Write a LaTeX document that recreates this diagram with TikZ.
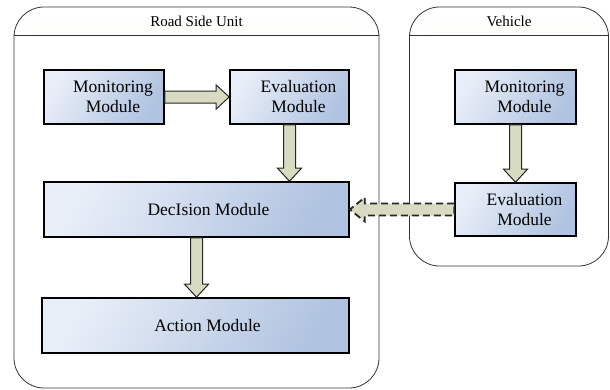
\documentclass[tikz,border=0pt]{standalone}
\usepackage{fontspec}
\setmainfont{Liberation Serif}
\newfontfamily\tnr{Liberation Serif}
\usetikzlibrary{calc}
\definecolor{boxlight}{HTML}{E8EEF8}
\definecolor{boxdark}{HTML}{B0C3E0}
\definecolor{arrowfill}{HTML}{D8DBC2}
\definecolor{hdr}{HTML}{EBEDE0}
\definecolor{frame}{HTML}{333333}
\tikzset{
  module/.style={draw=black, line width=1.6pt, top color=boxlight, bottom color=boxdark, shading angle=60, inner sep=0pt},
  mtext/.style={font=\tnr\fontsize{17.5}{20}\selectfont, align=center, text=black},
  htext/.style={font=\tnr\fontsize{15}{17}\selectfont, text=black},
  container/.style={draw=frame, line width=0.8pt, rounded corners=30pt, inner sep=0pt,
    path picture={
      \shade[top color=white, bottom color=hdr] (path picture bounding box.north west) rectangle ([yshift=-28pt]path picture bounding box.north east);
      \draw[frame, line width=0.8pt] ([yshift=-28pt]path picture bounding box.north west) -- ([yshift=-28pt]path picture bounding box.north east);
    }},
  fatarrow/.style={draw=black!85, line width=1pt, fill=arrowfill, line join=miter},
  dasharrow/.style={fatarrow, line width=1.8pt, dash pattern=on 7pt off 4pt},
}
\newcommand\fatarrow[4][]{%
  \draw[fatarrow,#1] let \p1=(#2), \p2=(#3), \n1={veclen(\x2-\x1,\y2-\y1)}, \n2={atan2(\y2-\y1,\x2-\x1)} in
    [shift={(\p1)}, rotate=\n2] (0pt,-6pt) -- ({\n1-#4},-6pt) -- ({\n1-#4},-12pt) -- (\n1,0pt) -- ({\n1-#4},12pt) -- ({\n1-#4},6pt) -- (0pt,6pt) -- cycle;}
\begin{document}
\begin{tikzpicture}[x=1pt, y=-1pt]
\useasboundingbox (0,0) rectangle (610,389);
% containers
\node[container, minimum width=365pt, minimum height=381pt] (rsu) at (196.5,197.5) {};
\node[htext] (rsutitle) at ([yshift=-15pt]rsu.north) {Road Side Unit};
\node[container, minimum width=199pt, minimum height=259pt] (veh) at (509,136.5) {};
\node[htext] (vehtitle) at ([yshift=-15pt]veh.north) {Vehicle};
% modules
\node[module, minimum width=120pt, minimum height=54pt] (rmon) at (104,97)
  {}; \node[mtext] (rmont) at ([xshift=9pt]rmon.center) {Monitoring\\Module};
\node[module, minimum width=119pt, minimum height=54pt] (reval) at (289.5,97)
  {}; \node[mtext] (revalt) at ([xshift=9pt]reval.center) {Evaluation\\Module};
\node[module, minimum width=305pt, minimum height=55pt] (dec) at (196.5,209.5)
  {}; \node[mtext] (dect) at ([xshift=12pt]dec.center) {DecIsion Module};
\node[module, minimum width=307pt, minimum height=55pt] (act) at (195.5,325.5)
  {}; \node[mtext] (actt) at ([xshift=12pt]act.center) {Action Module};
\node[module, minimum width=121pt, minimum height=54pt] (vmon) at (515.5,97)
  {}; \node[mtext] (vmont) at ([xshift=9pt]vmon.center) {Monitoring\\Module};
\node[module, minimum width=121pt, minimum height=53pt] (veval) at (515.5,209.5)
  {}; \node[mtext] (vevalt) at ([xshift=9pt]veval.center) {Evaluation\\Module};
% arrows
\fatarrow{rmon.east}{reval.west}{13pt}
\fatarrow{reval.south}{reval.south |- dec.north}{13pt}
\fatarrow{dec.south}{dec.south |- act.north}{13pt}
\fatarrow{vmon.south}{vmon.south |- veval.north}{13pt}
\fatarrow[dasharrow]{veval.west}{dec.east}{15pt}
\end{tikzpicture}
\end{document}
